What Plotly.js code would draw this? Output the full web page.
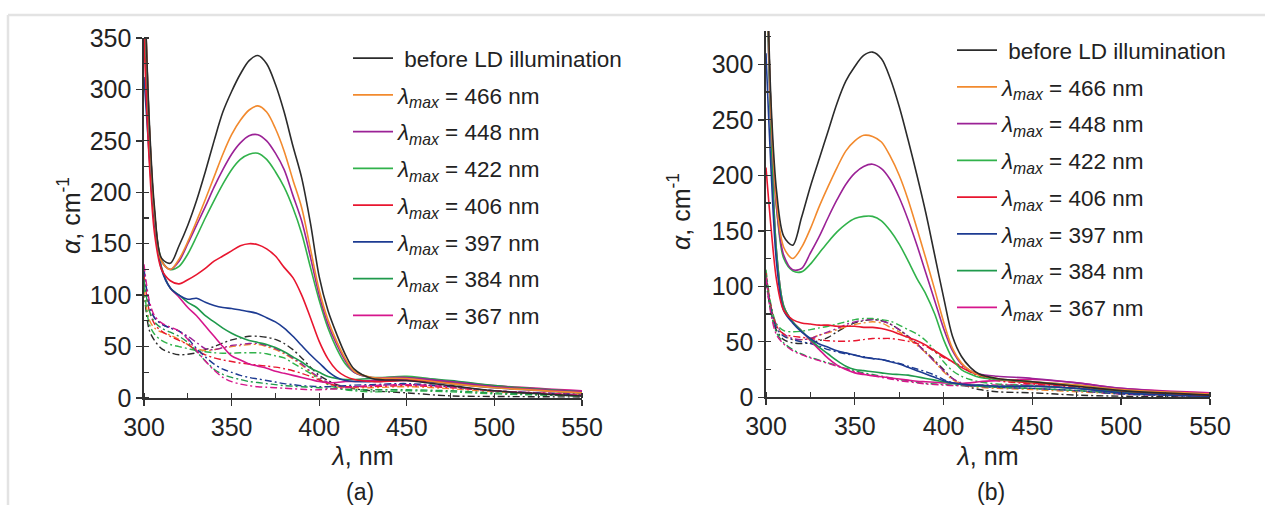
<!DOCTYPE html>
<html><head><meta charset="utf-8">
<script src="https://cdn.plot.ly/plotly-3.0.1.min.js"></script>
<style>html,body{margin:0;padding:0;background:#fff;}#chart{width:1265px;height:505px;}</style>
</head><body><div id="chart"></div>
<script>
// wavelength grid, nm
const wavelength = [300,303,306,310,315,320,325,330,335,340,345,350,355,360,365,370,375,380,385,390,395,400,405,410,415,420,430,450,475,500,550];

const seriesNames = ["before LD illumination","466","448","422","406","397","384","367"];
const seriesColors = ["#2b2b2b","#f28a2e","#9b2296","#31b24b","#e8162f","#1d3b92","#1f9a4c","#d6168c"];

// ---- panel (a): solid curves ----
const aSolidBefore = [420,270,185,136,131,148,168,192,220,250,278,298,315,328,333,325,305,278,245,214,170,118,85,62,42,28,19,17,12,7,2];
const aSolid466 = [420,265,180,133,125,135,152,172,193,215,237,256,270,280,284,278,262,240,212,185,145,105,76,55,38,26,20,19,14,10,5];
const aSolid448 = [420,265,180,133,125,133,150,168,186,205,222,237,248,255,256,250,238,222,197,172,137,100,72,52,36,25,20,20,16,11,6];
const aSolid422 = [420,265,180,134,125,128,140,157,175,192,208,222,232,237,238,232,220,205,185,160,127,95,68,48,33,25,20,21,16,11,5];
const aSolid406 = [350,230,160,125,114,111,115,120,126,133,138,143,148,150,149,145,138,127,117,100,78,55,38,27,21,18,16,17,15,11,5];
const aSolid397 = [312,235,170,125,107,100,96,97,93,90,88,87,85.5,84,82,78,74,68,60,51,42,34,26,20,17,16,16,17,14,10,5];
const aSolid384 = [380,250,175,127,107,100,93,88,80,74,68,63,59,56,54,52,49,45,40,35,29,25,21,19,18,18,19,20,17,12,6];
const aSolid367 = [380,250,175,127,107,98,88,80,70,60,50,41,37,33,31,29,26,24,22,20,18,16,15,15,16,16,17,18,16,12,7];

// ---- panel (a): dash-dot curves ----
const aDashBefore = [105,66,56,48,44,42,42.5,44,47,50,53.5,56.5,58.5,60,60,59,57,53,47,39,30,22,17,13,11,9,7,5,2,1.5,1];
const aDash466 = [105,76,68,64,61,57,52,48,46,47,48.5,50,51,52,52,50,47,43,38,32,25,19,14,11,10,10,10,11,9,6,3];
const aDash448 = [125,90,78,72,68,65,60,54,48,47,49,51,52,53,53,51,48,44,39,33,26,20,15,12,11,11,12,13,11,7,4];
const aDash422 = [110,72,62,56,52,50,48,46,45,44,43.5,43.5,44,44,44,43,41,39,34,29,24,18,13,10,8,7,6,7,6,4,2];
const aDash406 = [120,85,72,65,60,56,52,46,42,39,37,35.5,34,33,32,31,30,28.5,26.5,24,21,17.5,14,12,11,11,11,12,10,7,3];
const aDash397 = [125,92,78,72,68,65,58,48,40,33,28,25,22,20,18.5,17,15.5,14,13,12,11.5,11,11,11.5,12,12.5,13,14,11,7,3];
const aDash384 = [115,85,74,68,64,60,54,45,36,28,23,20,18,16,15,14,13,12,11.5,11,10.5,10,9.5,9,8.5,8,8,8,7,5,2];
const aDash367 = [130,95,80,73,69,65,57,46,36,27,20,16,13.5,12,11,10.5,10,9.5,9,8.5,8,8,8.5,9,10,11,12,13,11,7,3];

// ---- panel (b): solid curves ----
const bSolidBefore = [420,260,185,145,137,162,190,215,240,265,285,298,308,311,305,287,262,232,200,166,128,90,55,37,27,21,17,14,10,6,2];
const bSolid466 = [420,250,175,135,125,135,152,172,190,207,222,231,236,235,230,217,200,178,152,125,97,68,44,31,24,20,17,14,11,7,3];
const bSolid448 = [420,250,170,128,115,116,130,145,162,178,192,202,208,210,206,196,180,160,137,112,87,62,42,30,24,21,19,17,13,8,3];
const bSolid422 = [420,250,170,125,114,113,120,130,140,149,156,161,163,163,159,150,138,123,107,93,75,52,35,25,21,18,16,14,11,7,3];
const bSolid406 = [207,150,105,78,70,67,66,65,65,64,64,64,63,63,62,60,57,54,51,47,42,37,32,27,23,20,16,13,10,6,2];
const bSolid397 = [310,200,120,78,67,59,53,48,45,42,40,38,36,35,34,32,30,27,24,21,18,15,13,12,11,11,10,10,8,4,1];
const bSolid384 = [400,230,130,82,68,60,52,45,39,33,28,25,24,23,22,21,20.5,20,18.5,17,15.5,14,12.5,11.5,11,10.5,10,10,8,5,2];
const bSolid367 = [400,230,130,82,68,60,51,43,35,29,25,22,20.5,19.5,18.5,17.5,16.5,15.5,14.5,14,13.5,13,12.5,12.5,13,14,15,16,13,8,4];

// ---- panel (b): dash-dot curves ----
const bDashBefore = [105,75,60,52,49,48.5,49,51,54,59,63.5,67,69,70,69,66,61,55,48,41,33,25,17,12,9,7,5,4,2,1,0.5];
const bDash466 = [108,80,64,56,52,52,53,56,58,61,63.5,65.5,67,68,67,63,59,53,47,40,32,23,16,12,10,9,8,7,5,3,1];
const bDash448 = [110,80,65,57,53,52,53,56,59,62,65.5,68,69.5,70,69,66,61,55,48,40,32,24,17,13,11,10,9,8,6,3,1];
const bDash422 = [115,82,66,60,59,59.5,61,62.5,64,66,68,70,71,71,70,68.5,65,61,57,51,42,32,24,19,16,14,12,11,8,5,2];
const bDash406 = [112,80,64,57,55,54,53,52,51,50.5,50.5,51,52,53,53,53,52,50.5,48.5,46,41,36,32,28,23,19,15,12,9,5,2];
const bDash397 = [108,78,62,55,52,50,48.5,46,43,41,39,38,36.5,35,34,32.5,30.5,28,25.5,23,20,16,13,11.5,10.5,10,9,8,6,3,1];
const bDash384 = [110,75,58,49,43,39,36,33.5,31,28.5,26,24,22,20.5,19,17.5,16,15,13.5,12.5,12,11.5,11,10.5,10,10,9,8,6,4,1];
const bDash367 = [108,73,56,48,42,38.5,35.5,33,30.5,28,25.5,23,21,19.5,18,16.5,15,14,13,12,11.5,11,10.5,10.5,10.5,11,11,11,8,5,2];

const aSolid = [aSolidBefore,aSolid466,aSolid448,aSolid422,aSolid406,aSolid397,aSolid384,aSolid367];
const aDash = [aDashBefore,aDash466,aDash448,aDash422,aDash406,aDash397,aDash384,aDash367];
const bSolid = [bSolidBefore,bSolid466,bSolid448,bSolid422,bSolid406,bSolid397,bSolid384,bSolid367];
const bDash = [bDashBefore,bDash466,bDash448,bDash422,bDash406,bDash397,bDash384,bDash367];

function label(i){
  return i===0 ? " " + seriesNames[0] : "<i>λ</i><sub><i>max</i></sub> = " + seriesNames[i] + " nm";
}

const traces = [];
function addPanel(solid, dash, xa, ya, legendId, suffix){
  for(let i=0;i<8;i++){
    traces.push({x:wavelength, y:dash[i], xaxis:xa, yaxis:ya, type:'scatter', mode:'lines',
      line:{color:seriesColors[i], width:1.4, dash:'7px,3px,2px,3px', shape:'spline', smoothing:0.9},
      showlegend:false, hoverinfo:'skip'});
  }
  for(let i=7;i>=0;i--){
    traces.push({x:wavelength, y:solid[i], xaxis:xa, yaxis:ya, type:'scatter', mode:'lines',
      name:label(i), legend:legendId, legendgroup:'g'+suffix+i, legendrank:i+1,
      line:{color:seriesColors[i], width:1.6, shape:'spline', smoothing:0.9}});
  }
}
addPanel(aSolid, aDash, 'x', 'y', 'legend', 'a');
addPanel(bSolid, bDash, 'x2', 'y2', 'legend2', 'b');

const W = 1265, H = 505;
const px = v => v / W;
const py = v => 1 - v / H;
const font = {family:'"Liberation Sans", Arial, sans-serif', color:'#222'};

function xAxis(dom, anchor){
  return {domain:dom, anchor:anchor, range:[300,550], dtick:50, tick0:300,
    showline:true, linecolor:'#333', linewidth:1.6, ticks:'outside', ticklen:6, tickwidth:1.4, tickcolor:'#333',
    minor:{dtick:25, tick0:300, ticks:'inside', ticklen:5, tickwidth:1.2, tickcolor:'#333', showgrid:false},
    showgrid:false, zeroline:false, tickfont:{...font, size:25}, automargin:false,
    title:{text:'<i>λ</i>, nm', font:{...font, size:25}, standoff:8}};
}
function yAxis(dom, anchor, top){
  return {domain:dom, anchor:anchor, range:[0,top], dtick:50, tick0:0,
    showline:true, linecolor:'#333', linewidth:1.6, ticks:'outside', ticklen:6, tickwidth:1.4, tickcolor:'#333',
    minor:{dtick:25, tick0:0, ticks:'inside', ticklen:5, tickwidth:1.2, tickcolor:'#333', showgrid:false},
    showgrid:false, zeroline:false, tickfont:{...font, size:25}, automargin:false};
}
function overlayX(dom, anchor, over){
  return {domain:dom, anchor:anchor, overlaying:over, range:[300,550], dtick:50, tick0:300,
    showline:false, ticks:'inside', ticklen:6, tickwidth:1.4, tickcolor:'#333', showticklabels:false, showgrid:false, zeroline:false};
}
function overlayY(dom, anchor, over, top){
  return {domain:dom, anchor:anchor, overlaying:over, range:[0,top], dtick:50, tick0:0,
    showline:false, ticks:'inside', ticklen:6, tickwidth:1.4, tickcolor:'#333', showticklabels:false, showgrid:false, zeroline:false};
}

const xdA = [px(144), px(582)], ydA = [py(398), py(38)];
const xdB = [px(766), px(1210)], ydB = [py(397.3), py(397.3 - 330*1.11)];

const legendCommon = {font:{...font, size:22.5}, bgcolor:'rgba(0,0,0,0)', borderwidth:0,
  xanchor:'left', yanchor:'top', tracegroupgap:4.5, itemwidth:40, traceorder:'grouped'};

const yTitle = '<i>α</i>, cm<sup>-1</sup>';

const layout = {
  width:W, height:H, margin:{l:0,r:0,t:0,b:0}, paper_bgcolor:'#fff', plot_bgcolor:'rgba(0,0,0,0)',
  xaxis:xAxis(xdA,'y'), yaxis:yAxis(ydA,'x',350),
  xaxis2:xAxis(xdB,'y2'), yaxis2:yAxis(ydB,'x2',330),
  xaxis3:overlayX(xdA,'y','x'), yaxis3:overlayY(ydA,'x','y',350),
  xaxis4:overlayX(xdB,'y2','x2'), yaxis4:overlayY(ydB,'x2','y2',330),
  legend:{...legendCommon, x:px(348), y:py(37)},
  legend2:{...legendCommon, x:px(952), y:py(29)},
  showlegend:true,
  annotations:[
    {text:yTitle, textangle:-90, x:px(69), y:py(216), xref:'paper', yref:'paper', xanchor:'center', yanchor:'middle', showarrow:false, font:{...font, size:25}},
    {text:yTitle, textangle:-90, x:px(679), y:py(212), xref:'paper', yref:'paper', xanchor:'center', yanchor:'middle', showarrow:false, font:{...font, size:25}},
    {text:'(a)', x:px(360), y:py(492), xref:'paper', yref:'paper', xanchor:'center', yanchor:'middle', showarrow:false, font:{...font, size:23}},
    {text:'(b)', x:px(991), y:py(492), xref:'paper', yref:'paper', xanchor:'center', yanchor:'middle', showarrow:false, font:{...font, size:23}}
  ],
  shapes:[
    {type:'line', xref:'paper', yref:'paper', x0:px(8), x1:1, y0:py(15), y1:py(15), line:{color:'#e3e3e3', width:2.5}},
    {type:'line', xref:'paper', yref:'paper', x0:px(8), x1:px(8), y0:py(15), y1:0, line:{color:'#e3e3e3', width:2.5}}
  ]
};

Plotly.newPlot('chart', traces, layout, {staticPlot:true, displayModeBar:false});
</script></body></html>
